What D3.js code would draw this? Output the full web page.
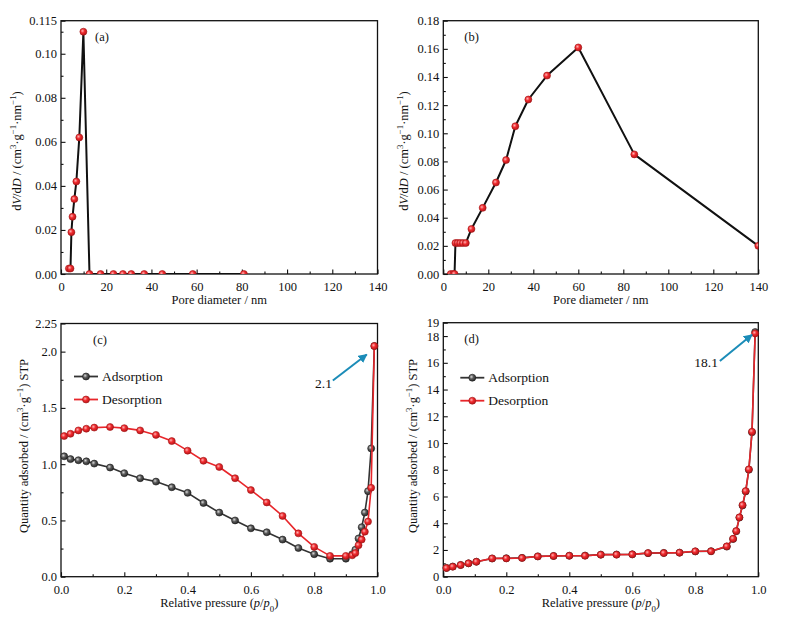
<!DOCTYPE html>
<html lang="en">
<head>
<meta charset="UTF-8">
<title>Pore size distribution and N2 isotherms</title>
<script src="https://d3js.org/d3.v7.min.js"></script>
<style>
  body { margin: 0; background: #fff; }
  svg, svg text { font-family: "Liberation Serif", "Times New Roman", Times, serif; }
  svg text { fill: #111; }
</style>
</head>
<body>
<svg id="svg" width="789" height="622" font-family="Liberation Serif, Times New Roman, serif"></svg>
<script>
// (a) pore size distribution
const poreA = [3.5, 4.2, 4.6, 5.1, 5.9, 6.8, 8.1, 9.9, 12.6, 17.5, 23.2, 27.4, 31.1, 36.8, 44.8, 58.3, 80.9];
const dvdA  = [0.0025, 0.0025, 0.019, 0.026, 0.034, 0.042, 0.062, 0.110, 0, 0, 0, 0, 0, 0, 0, 0, 0];

// (b) pore size distribution
const poreB = [3.3, 4.4, 5.0, 5.4, 6.4, 7.5, 8.7, 10.0, 12.5, 17.5, 23.4, 27.9, 32.0, 37.8, 46.1, 60.0, 84.9, 140];
const dvdB  = [0, 0, 0, 0.022, 0.022, 0.022, 0.022, 0.022, 0.032, 0.047, 0.065, 0.081, 0.105, 0.124, 0.141, 0.161, 0.085, 0.020];

// relative pressure points, shared by (c) and (d)
const relP = [0.01, 0.03, 0.055, 0.08, 0.105, 0.155, 0.2, 0.25, 0.3, 0.35, 0.4, 0.45, 0.5, 0.55, 0.6,
              0.65, 0.7, 0.75, 0.8, 0.85, 0.9, 0.92, 0.93, 0.94, 0.95, 0.96, 0.97, 0.98, 0.99];

// (c) isotherm
const adsC = [1.07, 1.045, 1.035, 1.025, 1.005, 0.97, 0.92, 0.875, 0.845, 0.795, 0.745, 0.655, 0.57, 0.50, 0.43,
              0.395, 0.33, 0.255, 0.20, 0.16, 0.16, 0.20, 0.24, 0.34, 0.44, 0.57, 0.76, 1.14, 2.05];
const desC = [1.25, 1.27, 1.30, 1.315, 1.325, 1.33, 1.32, 1.30, 1.26, 1.205, 1.12, 1.03, 0.975, 0.875, 0.77,
              0.66, 0.54, 0.385, 0.265, 0.185, 0.185, 0.19, 0.21, 0.28, 0.33, 0.40, 0.49, 0.79, 2.05];

// (d) isotherm
const adsD = [0.66, 0.76, 0.88, 1.0, 1.12, 1.36, 1.38, 1.41, 1.52, 1.55, 1.57, 1.58, 1.65, 1.66, 1.67,
              1.76, 1.78, 1.80, 1.89, 1.91, 2.25, 2.82, 3.40, 4.42, 5.33, 6.38, 8.0, 10.8, 18.3];
const desD = [0.65, 0.75, 0.87, 1.0, 1.12, 1.37, 1.37, 1.40, 1.52, 1.55, 1.57, 1.57, 1.65, 1.65, 1.67,
              1.77, 1.77, 1.80, 1.90, 1.90, 2.27, 2.84, 3.42, 4.44, 5.36, 6.41, 8.03, 10.85, 18.2];

// ticks
const poreTicks = [0, 20, 40, 60, 80, 100, 120, 140];
const poreLabels = ["0", "20", "40", "60", "80", "100", "120", "140"];
const yTicksA = [0, 0.02, 0.04, 0.06, 0.08, 0.10, 0.115];
const yLabelsA = ["0.00", "0.02", "0.04", "0.06", "0.08", "0.10", "0.115"];
const yTicksB = [0, 0.02, 0.04, 0.06, 0.08, 0.10, 0.12, 0.14, 0.16, 0.18];
const yLabelsB = ["0.00", "0.02", "0.04", "0.06", "0.08", "0.10", "0.12", "0.14", "0.16", "0.18"];
const pTicks = [0, 0.2, 0.4, 0.6, 0.8, 1.0];
const pLabels = ["0.0", "0.2", "0.4", "0.6", "0.8", "1.0"];
const yTicksC = [0, 0.5, 1.0, 1.5, 2.0, 2.25];
const yLabelsC = ["0.0", "0.5", "1.0", "1.5", "2.0", "2.25"];
const yTicksD = [0, 2, 4, 6, 8, 10, 12, 14, 16, 18, 19];
const yLabelsD = ["0", "2", "4", "6", "8", "10", "12", "14", "16", "18", "19"];

const FONT = "Liberation Serif, Times New Roman, serif";
const svg = d3.select("#svg");
const defs = svg.append("defs");

function ball(id, c0, c1, c2) {
    const gr = defs.append("radialGradient").attr("id", id)
        .attr("cx", "38%").attr("cy", "38%").attr("r", "65%");
    gr.append("stop").attr("offset", "0%").attr("stop-color", c0);
    gr.append("stop").attr("offset", "45%").attr("stop-color", c1);
    gr.append("stop").attr("offset", "100%").attr("stop-color", c2);
}
ball("redBall", "#ffb3b3", "#ef2a2e", "#b8161a");
ball("greyBall", "#d8d8d8", "#5a5a5a", "#2a2a2a");

defs.append("marker").attr("id", "arrowHead")
    .attr("viewBox", "0 0 10 10").attr("refX", 9).attr("refY", 5)
    .attr("markerWidth", 4.5).attr("markerHeight", 4.5).attr("orient", "auto")
    .append("path").attr("d", "M0,0 L10,5 L0,10 Z").attr("fill", "#1b8cb8");

function rich(text, parts) {
    parts.forEach(p => {
        const ts = text.append("tspan").text(p.t);
        if (p.i) ts.attr("font-style", "italic");
        if (p.sup) ts.attr("baseline-shift", "super").attr("font-size", "70%");
        if (p.sub) ts.attr("baseline-shift", "sub").attr("font-size", "70%");
    });
}

function panel(o) {
    const x = d3.scaleLinear().domain(o.xDom).range([o.l, o.r]);
    const y = d3.scaleLinear().domain(o.yDom).range([o.b, o.t]);
    const g = svg.append("g").attr("font-family", FONT);

    const clipId = "clip" + o.name;
    defs.append("clipPath").attr("id", clipId)
        .append("rect").attr("x", o.l).attr("y", o.t).attr("width", o.r - o.l).attr("height", o.b - o.t);

    const fontAxis = sel => sel.attr("font-family", FONT).attr("font-size", 12.5).attr("color", "#111");

    // minor ticks
    g.append("g").attr("transform", `translate(0,${o.b})`)
        .call(d3.axisBottom(x).tickValues(o.xMinor).tickFormat("").tickSize(-2.5).tickSizeOuter(0))
        .call(a => a.select(".domain").remove()).call(fontAxis);
    g.append("g").attr("transform", `translate(${o.l},0)`)
        .call(d3.axisLeft(y).tickValues(o.yMinor).tickFormat("").tickSize(-2.5).tickSizeOuter(0))
        .call(a => a.select(".domain").remove()).call(fontAxis);
    // major ticks
    g.append("g").attr("transform", `translate(0,${o.b})`)
        .call(d3.axisBottom(x).tickValues(o.xTicks).tickFormat((d, i) => o.xLabels[i])
            .tickSize(-4.5).tickSizeOuter(0).tickPadding(8))
        .call(a => a.select(".domain").remove()).call(fontAxis);
    g.append("g").attr("transform", `translate(${o.l},0)`)
        .call(d3.axisLeft(y).tickValues(o.yTicks).tickFormat((d, i) => o.yLabels[i])
            .tickSize(-4.5).tickSizeOuter(0).tickPadding(4))
        .call(a => a.select(".domain").remove()).call(fontAxis);
    g.selectAll(".tick line").attr("stroke-width", 1.1);

    // frame
    g.append("rect").attr("x", o.l).attr("y", o.t).attr("width", o.r - o.l).attr("height", o.b - o.t)
        .attr("fill", "none").attr("stroke", "#111").attr("stroke-width", 1.3);

    // titles
    const xt = g.append("text").attr("x", (o.l + o.r) / 2).attr("y", o.xTitleY)
        .attr("text-anchor", "middle").attr("font-size", 12.5);
    rich(xt, o.xTitle);
    const yt = g.append("text").attr("transform", `translate(${o.yTitleX},${o.yTitleC}) rotate(-90)`)
        .attr("text-anchor", "middle").attr("font-size", 12.5);
    rich(yt, o.yTitle);
    g.append("text").attr("x", o.l + o.tagDx).attr("y", o.t + 20).attr("font-size", 12.5).text(o.tag);

    const plot = g.append("g");
    if (o.clip) plot.attr("clip-path", `url(#${clipId})`);
    o.series.forEach(s => {
        const pts = s.xs.map((v, i) => [v, s.ys[i]]);
        plot.append("path").datum(pts)
            .attr("d", d3.line().x(d => x(d[0])).y(d => y(d[1])))
            .attr("fill", "none").attr("stroke", s.line).attr("stroke-width", s.lw)
            .attr("stroke-linejoin", "round");
        plot.selectAll(null).data(pts).join("circle")
            .attr("cx", d => x(d[0])).attr("cy", d => y(d[1])).attr("r", 3.5)
            .attr("fill", `url(#${s.ball})`).attr("stroke", s.edge).attr("stroke-width", 0.6);
    });

    if (o.legend) {
        o.series.forEach((s, i) => {
            const ly = o.t + o.legend.dy + i * 23;
            const lx = o.l + o.legend.dx;
            g.append("line").attr("x1", lx).attr("x2", lx + 24).attr("y1", ly).attr("y2", ly)
                .attr("stroke", s.line).attr("stroke-width", 1.8);
            g.append("circle").attr("cx", lx + 12).attr("cy", ly).attr("r", 3.5)
                .attr("fill", `url(#${s.ball})`).attr("stroke", s.edge).attr("stroke-width", 0.6);
            g.append("text").attr("x", lx + 28).attr("y", ly + 4.5).attr("font-size", 13.5).text(s.name);
        });
    }

    if (o.note) {
        const n = o.note;
        g.append("line").attr("x1", x(n.from[0])).attr("y1", y(n.from[1]))
            .attr("x2", x(n.to[0])).attr("y2", y(n.to[1]))
            .attr("stroke", "#1b8cb8").attr("stroke-width", 2).attr("marker-end", "url(#arrowHead)");
        g.append("text").attr("x", x(n.at[0])).attr("y", y(n.at[1])).attr("text-anchor", "end")
            .attr("font-size", 13.5).text(n.text);
    }
}

const dvdTitle = [{ t: "d" }, { t: "V", i: 1 }, { t: "/d" }, { t: "D", i: 1 }, { t: " / (cm" }, { t: "3", sup: 1 },
    { t: "·g" }, { t: "−1", sup: 1 }, { t: "·nm" }, { t: "−1", sup: 1 }, { t: ")" }];
const qTitle = [{ t: "Quantity adsorbed / (cm" }, { t: "3", sup: 1 }, { t: "·g" }, { t: "−1", sup: 1 }, { t: ") STP" }];
const poreTitle = [{ t: "Pore diameter / nm" }];
const pTitle = [{ t: "Relative pressure (" }, { t: "p", i: 1 }, { t: "/" }, { t: "p", i: 1 }, { t: "0", sub: 1 }, { t: ")" }];

const poreMinor = d3.range(10, 140, 20);
const pMinor = d3.range(0.1, 1.0, 0.2);

panel({
    name: "A", l: 61, r: 377.5, t: 20.7, b: 274, xDom: [0, 140], yDom: [0, 0.115], clip: true,
    xTicks: poreTicks, xLabels: poreLabels, xMinor: poreMinor,
    yTicks: yTicksA, yLabels: yLabelsA, yMinor: [0.01, 0.03, 0.05, 0.07, 0.09, 0.11],
    xTitle: poreTitle, xTitleY: 304, yTitle: dvdTitle, yTitleX: 21, yTitleC: 151, tag: "(a)", tagDx: 34,
    series: [{ xs: poreA, ys: dvdA, line: "#111", lw: 2, ball: "redBall", edge: "#a01414" }]
});

panel({
    name: "B", l: 443.3, r: 758.3, t: 20.7, b: 274, xDom: [0, 140], yDom: [0, 0.18], clip: true,
    xTicks: poreTicks, xLabels: poreLabels, xMinor: poreMinor,
    yTicks: yTicksB, yLabels: yLabelsB, yMinor: d3.range(0.01, 0.18, 0.02),
    xTitle: poreTitle, xTitleY: 304, yTitle: dvdTitle, yTitleX: 408, yTitleC: 151, tag: "(b)", tagDx: 21,
    series: [{ xs: poreB, ys: dvdB, line: "#111", lw: 2, ball: "redBall", edge: "#a01414" }]
});

panel({
    name: "C", l: 61, r: 377.5, t: 323.5, b: 576.7, xDom: [0, 1], yDom: [0, 2.25], clip: false,
    xTicks: pTicks, xLabels: pLabels, xMinor: pMinor,
    yTicks: yTicksC, yLabels: yLabelsC, yMinor: [0.25, 0.75, 1.25, 1.75],
    xTitle: pTitle, xTitleY: 607, yTitle: qTitle, yTitleX: 28, yTitleC: 446, tag: "(c)", tagDx: 32,
    legend: { dx: 13, dy: 53 },
    note: { from: [0.859, 1.743], to: [0.966, 1.975], at: [0.856, 1.68], text: "2.1" },
    series: [
        { name: "Adsorption", xs: relP, ys: adsC, line: "#333", lw: 1.6, ball: "greyBall", edge: "#1a1a1a" },
        { name: "Desorption", xs: relP, ys: desC, line: "#e8262b", lw: 1.6, ball: "redBall", edge: "#a01414" }
    ]
});

panel({
    name: "D", l: 443.3, r: 758.3, t: 322.7, b: 576.7, xDom: [0, 1], yDom: [0, 19], clip: false,
    xTicks: pTicks, xLabels: pLabels, xMinor: pMinor,
    yTicks: yTicksD, yLabels: yLabelsD, yMinor: d3.range(1, 19, 2),
    xTitle: pTitle, xTitleY: 607, yTitle: qTitle, yTitleX: 417, yTitleC: 446, tag: "(d)", tagDx: 21,
    legend: { dx: 17, dy: 55 },
    note: { from: [0.878, 16.13], to: [0.98, 18.1], at: [0.872, 15.68], text: "18.1" },
    series: [
        { name: "Adsorption", xs: relP, ys: adsD, line: "#333", lw: 1.6, ball: "greyBall", edge: "#1a1a1a" },
        { name: "Desorption", xs: relP, ys: desD, line: "#e8262b", lw: 1.6, ball: "redBall", edge: "#a01414" }
    ]
});
</script>
</body>
</html>
